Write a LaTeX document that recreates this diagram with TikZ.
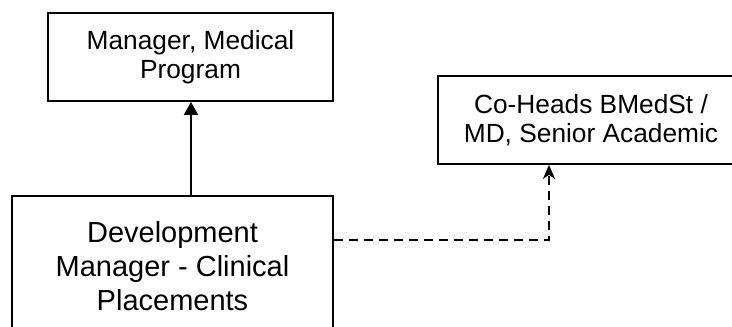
\documentclass[tikz,border=0pt]{standalone}
\usepackage{fontspec}
\setmainfont{Liberation Sans}
\usetikzlibrary{arrows.meta}
\tikzset{
  box/.style={draw=black, line width=1.8pt, rectangle, align=center, inner sep=0pt},
  smalltext/.style={font=\fontsize{26.3}{29}\selectfont},
  bigtext/.style={font=\fontsize{29}{34}\selectfont},
  conn/.style={line width=1.8pt, draw=black},
  dashconn/.style={line width=1.6pt, draw=black, dash pattern=on 9pt off 6pt}
}
\begin{document}
\begin{tikzpicture}[x=1pt,y=-1pt]
\useasboundingbox (0,0) rectangle (732,327);
\clip (0,0) rectangle (732,327);
\fill[white] (0,0) rectangle (732,327);
\node[box, smalltext, minimum width=285pt, minimum height=88pt] (b1) at (190.5,57) {Manager, Medical\\Program};
\node[box, smalltext, minimum width=306pt, minimum height=88pt] (b2) at (591,120) {Co-Heads BMedSt /\\MD, Senior Academic};
\node[box, bigtext, minimum width=321pt, minimum height=141pt] (b3) at (172.5,266.5) {Development\\Manager - Clinical\\Placements};
\coordinate (up) at (191,150);
\coordinate (bend) at (549,240);
\draw[conn, -{Triangle[length=13pt,width=14pt]}] (b3.north -| up) -- (b1.south -| up);
\draw[dashconn, -{Stealth[length=14pt,width=12pt,inset=4pt]}] (b3.east |- bend) -| (b2.south -| bend);
\end{tikzpicture}
\end{document}
